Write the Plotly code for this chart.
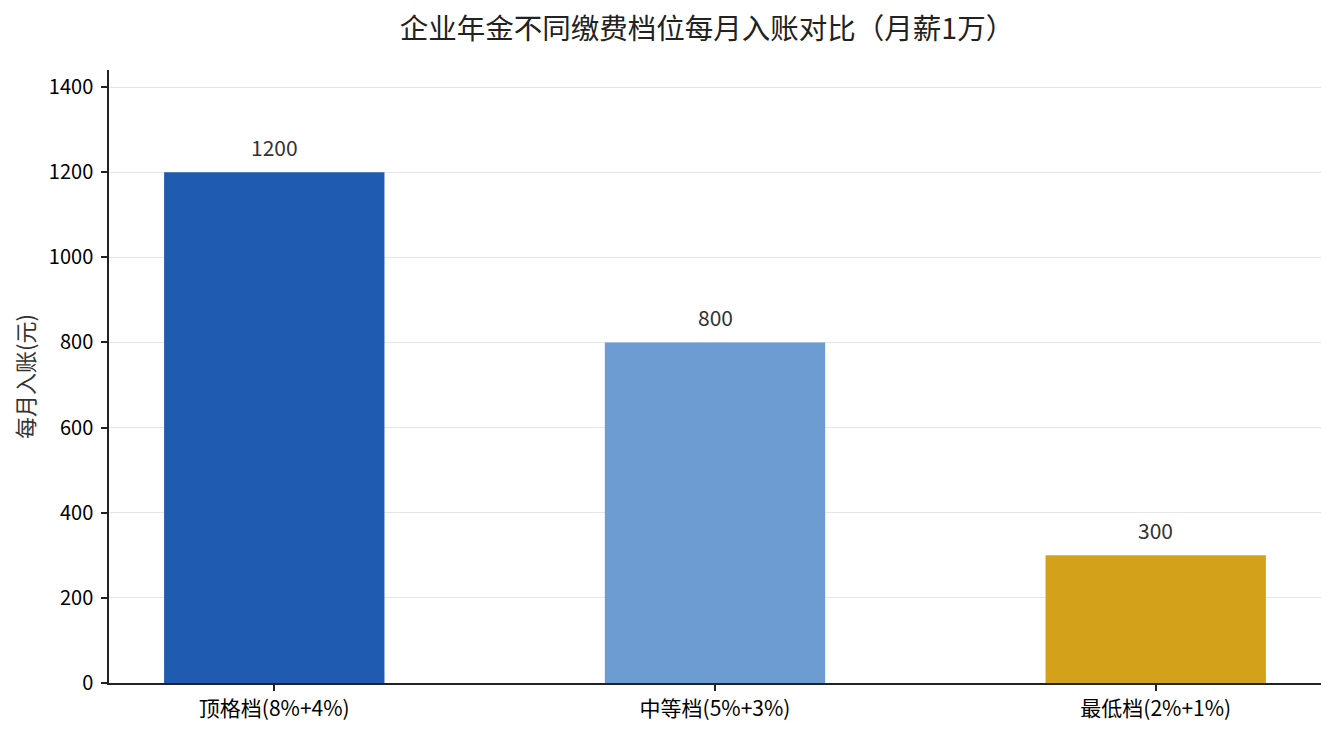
import plotly.graph_objects as go

categories = ["顶格档(8%+4%)", "中等档(5%+3%)", "最低档(2%+1%)"]
values = [1200, 800, 300]
colors = ["#1f5bb0", "#6d9cd3", "#d4a11a"]
title = "企业年金不同缴费档位每月入账对比（月薪1万）"
y_title = "每月入账(元)"
y_ticks = [0, 200, 400, 600, 800, 1000, 1200, 1400]

FONT = "Noto Sans CJK SC"
x_pos = list(range(len(categories)))

fig = go.Figure()
fig.add_trace(go.Bar(
    x=x_pos, y=values, width=0.5,
    marker=dict(color=colors, line=dict(width=0)),
    hoverinfo="skip",
))
for xi, v in zip(x_pos, values):
    fig.add_annotation(x=xi, y=v, text=str(v), showarrow=False, yshift=25,
                       font=dict(family=FONT, size=21, color="#333333"))

fig.update_layout(
    width=1335, height=735,
    margin=dict(l=109, r=14, t=70, b=52),
    paper_bgcolor="white", plot_bgcolor="white",
    showlegend=False,
    font=dict(family=FONT, size=20, color="#000000"),
    title=dict(text=title, x=0.5296, xanchor="center", y=0.961, yanchor="middle",
               font=dict(family=FONT, size=28.5, color="#222222")),
    xaxis=dict(range=[-0.375, 2.375], tickvals=x_pos, ticktext=categories,
               showline=True, linecolor="#222222", linewidth=1.5,
               ticks="outside", ticklen=6, tickwidth=1.5, tickcolor="#222222",
               showgrid=False, zeroline=False,
               tickfont=dict(family=FONT, size=21, color="#000000")),
    yaxis=dict(range=[0, 1440], tickvals=y_ticks,
               showline=True, linecolor="#222222", linewidth=1.5,
               ticks="outside", ticklen=6, tickwidth=1.5, tickcolor="#222222",
               ticklabelstandoff=4,
               showgrid=True, gridcolor="#e6e6e6", gridwidth=1,
               zeroline=False, layer="above traces",
               title=dict(text=y_title, standoff=8,
                          font=dict(family=FONT, size=22, color="#333333")),
               tickfont=dict(family=FONT, size=20, color="#000000")),
)

fig.write_html("out.html",
               config={"displayModeBar": False},
               post_script="document.body.style.margin='0';document.body.style.overflow='hidden';")
